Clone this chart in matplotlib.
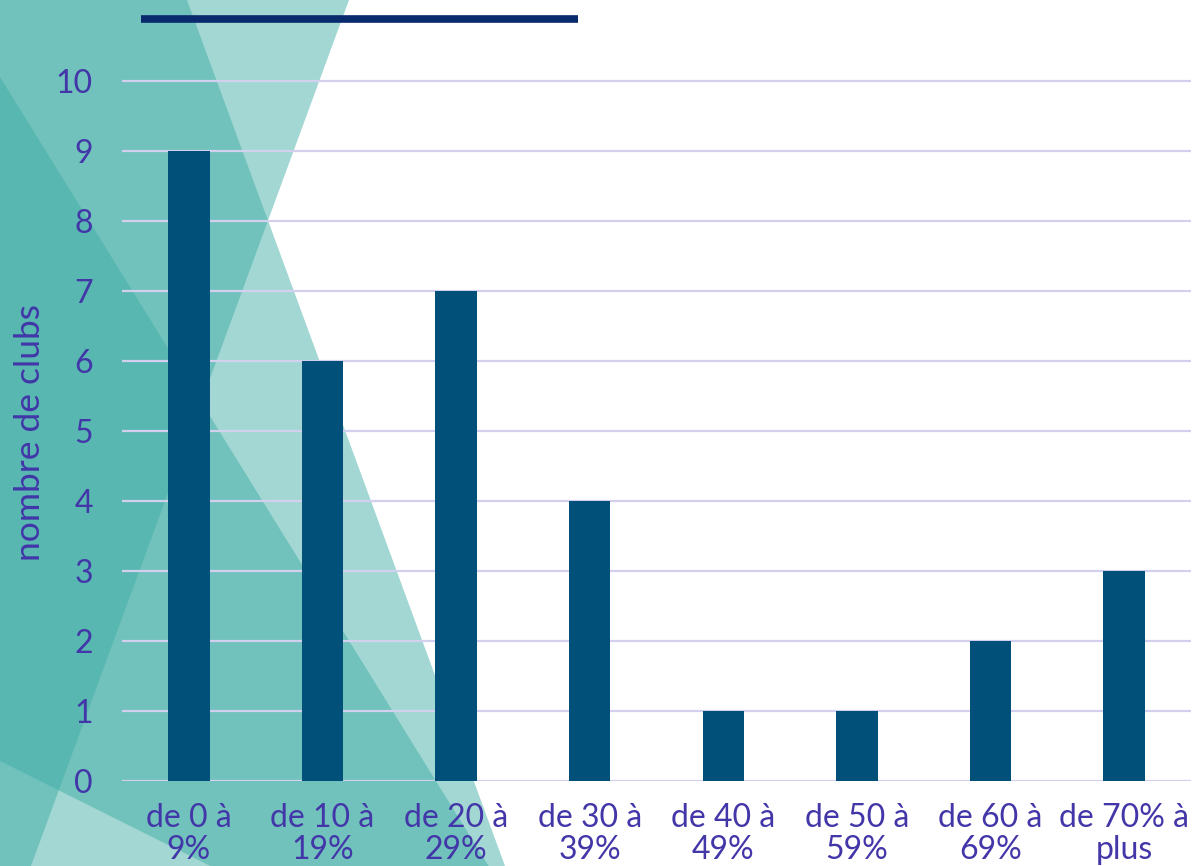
import numpy as np
import matplotlib.pyplot as plt
from matplotlib.patches import Polygon

# donnees
categories = ["de 0 à\n9%", "de 10 à\n19%", "de 20 à\n29%", "de 30 à\n39%",
              "de 40 à\n49%", "de 50 à\n59%", "de 60 à\n69%", "de 70% à\nplus"]
nb_clubs = [9, 6, 7, 4, 1, 1, 2, 3]
yticks = list(range(0, 11))

couleur_barre = "#00507A"
couleur_texte = "#4236A8"
couleur_grille = "#D3CFEF"
teal = "#3DACA3"

plt.rcParams['font.family'] = ['Lato', 'DejaVu Sans']

W, H = 1195, 866
fig = plt.figure(figsize=(W / 100, H / 100), dpi=100)

# fond decoratif (triangles translucides) en pixels
bg = fig.add_axes([0, 0, 1, 1], zorder=0)
bg.set_xlim(0, W)
bg.set_ylim(H, 0)
bg.axis("off")
formes = [
    [(0, 0), (349, 0), (31, H), (0, H)],          # gauche de la ligne B
    [(0, 0), (187, 0), (505, H), (0, H)],         # gauche de la ligne A
    [(0, 77), (613, 1067), (0, 761)],             # triangle fonce
]
for f in formes:
    bg.add_patch(Polygon(f, closed=True, facecolor=teal, alpha=0.48, lw=0))
bg.plot([141, 578], [19, 19], color="#0A2A6E", lw=5.5, solid_capstyle="butt")

ax = fig.add_axes([122 / W, (H - 781) / H, 1069 / W, 721 / H], zorder=1)
ax.patch.set_alpha(0)
x = np.arange(len(categories))
ax.bar(x, nb_clubs, width=0.31, color=couleur_barre, zorder=3)
ax.set_xlim(-0.5, 7.5)
ax.set_ylim(0, 10.3)
ax.set_yticks(yticks)
ax.set_xticks(x)
ax.set_xticklabels(categories, linespacing=1.08)
ax.grid(axis="y", color=couleur_grille, lw=1.6, zorder=1)
ax.set_axisbelow(True)
for s in ax.spines.values():
    s.set_visible(False)
ax.tick_params(axis="both", length=0, colors=couleur_texte, labelsize=23)
ax.tick_params(axis="y", pad=21)
ax.tick_params(axis="x", pad=16)
ax.set_ylabel("nombre de clubs", color=couleur_texte, fontsize=25.5, labelpad=7)
ax.yaxis.label.set_y(0.484)

fig.savefig("out.png", dpi=100)
